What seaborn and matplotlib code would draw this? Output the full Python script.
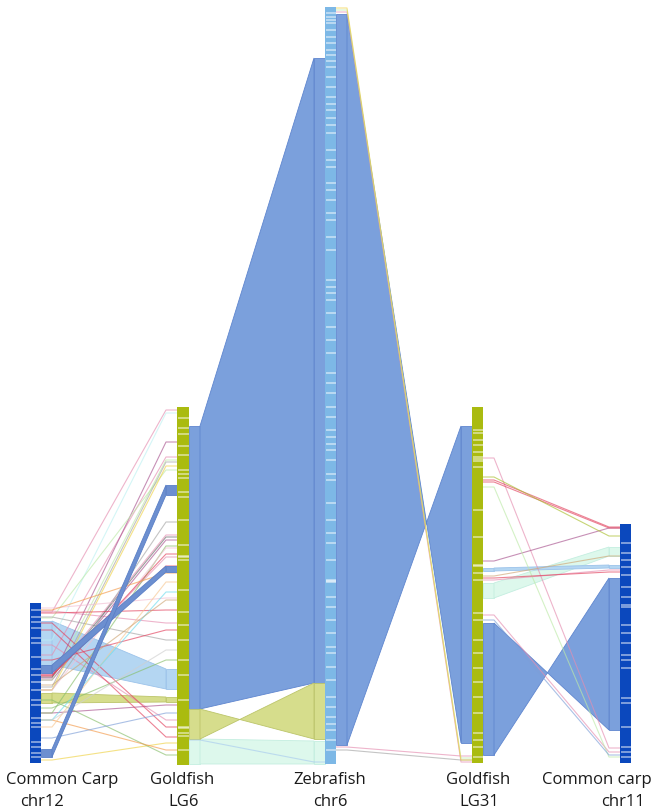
import matplotlib
matplotlib.use("Agg")
import matplotlib.pyplot as plt
from matplotlib.patches import Polygon, Rectangle
import numpy as np
import pandas as pd
import seaborn as sns

# ---------------------------------------------------------------- data ----
# chromosome tracks (extent along the drawing axis)
track_ids = ["cc12", "gf6", "zf6", "gf31", "cc11"]
track_start = [603, 407, 7, 407, 524]
track_end = [763, 765, 764, 763, 763]
label_line1 = ["Common Carp", "Goldfish", "Zebrafish", "Goldfish", "Common carp"]
label_line2 = ["chr12", "LG6", "chr6", "LG31", "chr11"]

# gene-free gaps drawn inside each track
gaps_cc12 = [610, 617, 622, 628, 638, 643, 657, 669, 675, 682, 690, 700, 705,
             718, 723, 727, 742, 747, 753, 757]
gaps_gf6 = [418, 428, 434, 446, 455, 470, 474, 478, 492, 497, 520, 545, 556,
            557, 560, 590, 612, 625, 640, 660, 675, 700, 727, 728, 733, 736, 750]
gaps_zf6 = [13, 17, 20, 23, 30, 37, 43, 50, 55, 61, 67, 77, 87, 97, 104, 110,
            118, 125, 133, 150, 160, 167, 183, 190, 200, 213, 220, 237, 250,
            280, 287, 293, 300, 313, 327, 340, 353, 373, 383, 393, 407, 417,
            430, 437, 444, 450, 460, 474, 480, 503, 520, 533, 543, 560, 580,
            581, 582, 597, 607, 620, 633, 647, 653, 667, 680, 697, 707, 717,
            724, 730, 740, 750]
gaps_gf31 = [430, 433, 440, 445, 452, 457, 459, 461, 467, 510, 537, 565, 566,
             573, 580, 613, 620, 640, 653, 668, 682, 697, 713, 733, 740, 747, 757]
gaps_cc11 = [543, 553, 560, 567, 575, 587, 597, 605, 607, 625, 633, 643, 655,
             660, 668, 698, 703, 727, 747, 752, 757]
track_gaps = [gaps_cc12, gaps_gf6, gaps_zf6, gaps_gf31, gaps_cc11]

# syntenic blocks: source track, target track, source span, target span
block_src = ["cc12", "cc12", "cc12", "cc12", "gf6", "gf6", "gf6", "zf6",
             "gf31", "gf31", "gf31"]
block_tgt = ["gf6", "gf6", "gf6", "gf6", "zf6", "zf6", "zf6", "gf31",
             "cc11", "cc11", "cc11"]
block_s0 = [621, 693, 665, 749, 426, 709, 739, 14, 583, 568, 623]
block_s1 = [665, 703, 673, 757, 709, 739, 764, 745, 598, 571, 755]
block_t0 = [669, 697, 566, 485, 58, 739, 741, 743, 547, 565, 730]
block_t1 = [689, 702, 572, 495, 683, 683, 764, 426, 556, 568, 578]
block_kind = ["lightblue", "olive", "blue2", "blue2", "blue", "olive", "mint",
              "blue", "mint", "lightblue", "blue"]

# single-gene links: source track, target track, source pos, target pos, colour key
link_src = (["cc12"] * 36) + ["gf6"] + (["zf6"] * 5) + (["gf31"] * 11)
link_tgt = (["gf6"] * 36) + ["zf6"] + (["gf31"] * 5) + (["cc11"] * 11)
link_s = [612, 640, 678, 655, 680, 687, 690, 690, 675, 677, 680, 713, 690,
          676, 674, 675, 610, 727, 720, 608, 613, 611, 660, 617, 720, 708,
          713, 738, 645, 623, 760, 720, 700, 630, 685, 618,
          740,
          8, 10, 12, 747, 750,
          458, 477, 480, 487, 561, 576, 578, 580, 615, 620, 482]
link_t = [410, 413, 442, 457, 460, 462, 466, 522, 535, 537, 540, 546, 548,
          554, 557, 566, 573, 582, 592, 598, 610, 623, 630, 640, 650, 660,
          705, 713, 720, 727, 743, 750, 755, 737, 600, 470,
          762,
          760, 758, 762, 756, 760,
          748, 536, 527, 757, 528, 556, 572, 570, 752, 755, 528]
link_kind = ["pink", "lightcyan", "purple", "pink", "lightgreen", "grey",
             "yellow", "grey", "pink", "darkgrey", "purple", "green",
             "lightpink", "red", "pink", "red", "orange", "lightorange",
             "cyan", "lightpink", "red", "pink", "red", "grey", "lightgrey",
             "green", "purple", "blue", "pink", "red", "yellow", "orange",
             "green", "red", "tan", "lightgreen",
             "lightblue",
             "yellow", "lightgreen", "pink", "pink", "grey",
             "pink", "olive", "red", "lightgreen", "purple", "tan", "red",
             "pink", "pink", "blue", "red"]

# -------------------------------------------------------------- styling ----
TRACK_X = {"cc12": 30, "gf6": 177, "zf6": 325, "gf31": 472, "cc11": 620}
TRACK_W = {"cc12": 11, "gf6": 12, "zf6": 11, "gf31": 11, "cc11": 11}
TRACK_COLOR = {"cc12": "#0B48BD", "gf6": "#AABB10", "zf6": "#7DB8E6",
               "gf31": "#AABB10", "cc11": "#0B48BD"}
STUB = 11
BLOCK_FACE = {"blue": "#7BA0DC", "blue2": "#6C8FD0", "lightblue": "#B4D6F2",
              "olive": "#D6DD8C", "mint": "#DDF8EC"}
BLOCK_EDGE = {"blue": "#5F86CF", "blue2": "#5A7FC6", "lightblue": "#9CC3EA",
              "olive": "#BCC56A", "mint": "#C4EEE0"}
BLOCK_Z = {"blue": 2, "blue2": 3.5, "lightblue": 1, "olive": 2.5, "mint": 1}
LINK_COLOR = {"pink": "#E58DB0", "lightpink": "#F3BFD2", "red": "#E2405C",
              "purple": "#A9548F", "yellow": "#EFD245", "orange": "#F39A4A",
              "lightorange": "#F7C792", "green": "#88BF6C",
              "lightgreen": "#BDEAA8", "grey": "#A5A5A5",
              "lightgrey": "#CFCFCF", "darkgrey": "#6A6A6A", "cyan": "#6FDDEE",
              "lightcyan": "#BDF1F2", "blue": "#7E9FD8", "lightblue": "#A9CBEF",
              "olive": "#A9BE2C", "tan": "#CFA676"}

sns.set_theme(style="white")
plt.rcParams["font.family"] = ["Open Sans", "DejaVu Sans"]

fig = plt.figure(figsize=(6.54, 8.10), dpi=100)
ax = fig.add_axes([0, 0, 1, 1])


def right_edge(t):
    return TRACK_X[t] + TRACK_W[t]


# syntenic blocks
for src, tgt, s0, s1, t0, t1, kind in zip(block_src, block_tgt, block_s0,
                                          block_s1, block_t0, block_t1,
                                          block_kind):
    xa = right_edge(src)
    xb = TRACK_X[tgt]
    fc, ec, z = BLOCK_FACE[kind], BLOCK_EDGE[kind], BLOCK_Z[kind]
    ax.add_patch(Rectangle((xa, s0), STUB, s1 - s0, fc=fc, ec=ec, lw=0.6,
                           zorder=z))
    ax.add_patch(Rectangle((xb - STUB, min(t0, t1)), STUB, abs(t1 - t0), fc=fc,
                           ec=ec, lw=0.6, zorder=z))
    quad = [(xa + STUB, s0), (xb - STUB, t0), (xb - STUB, t1), (xa + STUB, s1)]
    ax.add_patch(Polygon(quad, closed=True, fc=fc, ec=ec, lw=0.6, zorder=z))

# single-gene links, drawn as long-form paths through seaborn
rows = []
for i, (src, tgt, s, t, kind) in enumerate(zip(link_src, link_tgt, link_s,
                                               link_t, link_kind)):
    xa = right_edge(src)
    xb = TRACK_X[tgt]
    for j, (x, y) in enumerate([(xa, s), (xa + STUB, s), (xb - STUB, t),
                                (xb, t)]):
        rows.append({"link": i, "step": j, "x": x, "y": y, "kind": kind})
links = pd.DataFrame(rows)
sns.lineplot(data=links, x="x", y="y", units="link", hue="kind",
             palette=LINK_COLOR, estimator=None, sort=False, legend=False,
             linewidth=0.8, alpha=0.65, ax=ax, zorder=3)

# chromosome bars with their gaps
for tid, s, e, gaps in zip(track_ids, track_start, track_end, track_gaps):
    x0, w = TRACK_X[tid], TRACK_W[tid]
    ax.add_patch(Rectangle((x0, s), w, e - s, fc=TRACK_COLOR[tid], ec="none",
                           zorder=5))
    ax.hlines(gaps, x0 + 0.5, x0 + w - 0.5, colors="white", lw=1.1,
              alpha=0.6, zorder=6)

# labels
line1_x = {"cc12": 62, "gf6": 182, "zf6": 330, "gf31": 478, "cc11": 652}
line2_x = {"cc12": 42, "gf6": 184, "zf6": 330, "gf31": 479, "cc11": 623}
for tid, l1, l2 in zip(track_ids, label_line1, label_line2):
    ha1 = "right" if tid == "cc11" else "center"
    ax.text(line1_x[tid], 784, l1, ha=ha1, va="baseline", fontsize=12,
            color="#1a1a1a")
    ax.text(line2_x[tid], 806, l2, ha="center", va="baseline", fontsize=12,
            color="#1a1a1a")

ax.set_xlim(0, 654)
ax.set_ylim(810, 0)
ax.axis("off")
fig.savefig("out.png", dpi=100, facecolor="white")
